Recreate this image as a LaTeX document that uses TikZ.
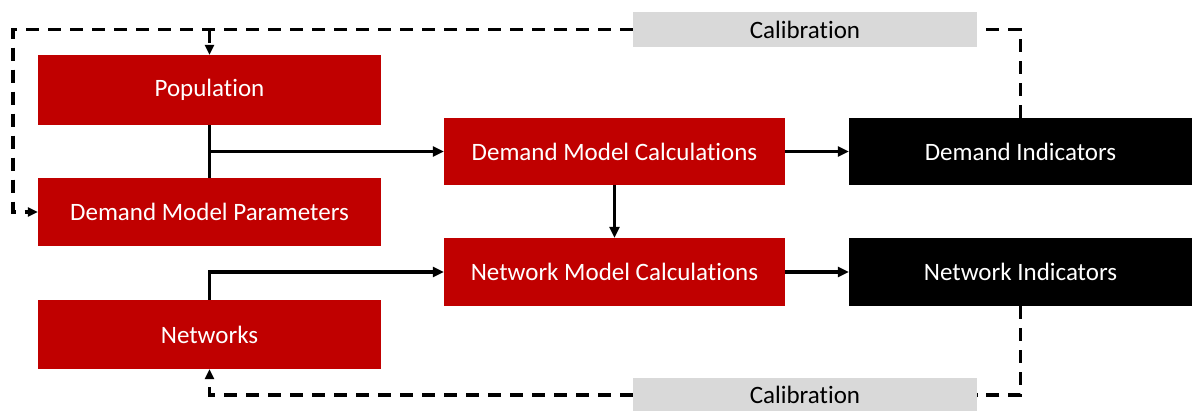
\documentclass[tikz,border=0pt]{standalone}
\usepackage{fontspec}
\setmainfont[Ligatures=NoCommon]{Carlito}
\usetikzlibrary{arrows.meta}
\definecolor{boxred}{HTML}{C00000}
\definecolor{calgray}{HTML}{D9D9D9}
\begin{document}
\begin{tikzpicture}[x=1pt,y=-1pt,
  redbox/.style={rectangle,fill=boxred,text=white,inner sep=0pt,minimum width=343pt,font=\fontsize{25}{29}\selectfont},
  blackbox/.style={rectangle,fill=black,text=white,inner sep=0pt,minimum width=343pt,minimum height=67pt,font=\fontsize{25}{29}\selectfont},
  calbox/.style={rectangle,fill=calgray,text=black,inner sep=0pt,minimum width=344pt,minimum height=35pt,font=\fontsize{25}{29}\selectfont},
  link/.style={line width=3.3pt,-{Triangle[length=11pt,width=10pt]}},
  plain/.style={line width=3.3pt},
  calib/.style={line width=3.3pt,dash pattern=on 13pt off 9pt},
  calarrow/.style={calib,-{Triangle[length=10pt,width=9pt]}}]
\useasboundingbox (0,0) rectangle (1192,410);
\clip (0,0) rectangle (1192,410);
\node[redbox,minimum height=70pt] (pop) at (209.5,90) {Population};
\node[redbox,minimum height=68pt] (dmp) at (209.5,212) {Demand Model Parameters};
\node[redbox,minimum height=69pt] (net) at (209.5,334.5) {Networks};
\node[redbox,minimum width=341pt,minimum height=67pt] (dmc) at (614.5,151.5) {Demand Model Calculations};
\node[redbox,minimum width=341pt,minimum height=68pt] (nmc) at (614.5,272) {Network Model Calculations};
\node[blackbox] (di) at (1020.5,151.5) {Demand Indicators};
\node[blackbox,minimum height=68pt] (ni) at (1020.5,272) {Network Indicators};
\node[calbox] (calt) at (805,29.5) {Calibration};
\node[calbox] (calb) at (805,395) {Calibration};
\coordinate (branch) at (209.5,151.5);
\coordinate (tl) at (13,29.5);
\coordinate (popin) at (209.5,29.5);
% solid connectors
\draw[plain] (pop.south) -- (dmp.north);
\draw[link] (branch) -- (dmc.west);
\draw[link] (net.north) |- (nmc.west);
\draw[link] (dmc.south) -- (nmc.north);
\draw[link] (dmc.east) -- (di.west);
\draw[link] (nmc.east) -- (ni.west);
% calibration loops
\draw[calib] (di.north) |- (calt.east);
\draw[calarrow] (calt.west) -- (tl) |- (dmp.west);
\draw[calarrow] (popin) -- (pop.north);
\draw[calib] (ni.south) |- (calb.east);
\draw[calarrow] (calb.west) -| (net.south);
\end{tikzpicture}
\end{document}
